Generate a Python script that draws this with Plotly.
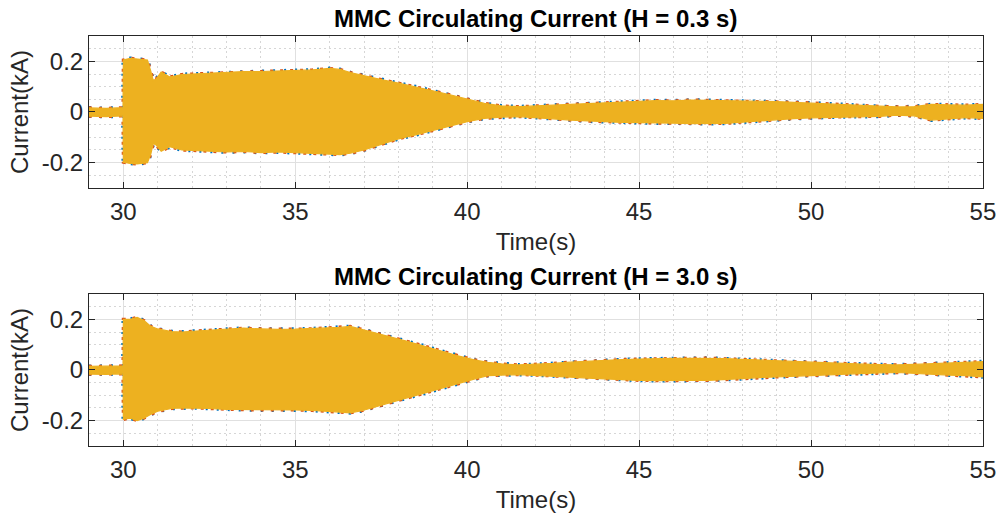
import plotly.graph_objects as go

# Envelope (peak / trough) of the circulating current, kA, sampled in time (s)
t_h03 = [29.0, 29.5, 29.99, 30.0, 30.2, 30.4, 30.7, 30.8, 30.87, 30.95, 31.1, 31.35, 31.7,
         32.0, 32.5, 33.0, 33.5, 34.0, 34.5, 35.0, 35.5, 36.0, 36.3, 36.6, 37.0,
         37.5, 38.0, 38.5, 39.0, 39.5, 40.0, 40.5, 41.0, 41.5, 42.0, 42.5, 43.0,
         43.5, 44.0, 44.5, 45.0, 45.5, 46.0, 46.5, 47.0, 47.5, 48.0, 48.5, 49.0,
         49.5, 50.0, 50.5, 51.0, 51.5, 52.0, 52.5, 53.0, 53.5, 54.0, 54.5, 55.0]
upper_h03 = [0.016, 0.014, 0.017, 0.205, 0.212, 0.208, 0.205, 0.160, 0.124, 0.130, 0.158, 0.138, 0.148,
             0.150, 0.153, 0.156, 0.160, 0.160, 0.162, 0.163, 0.166, 0.172, 0.168, 0.156, 0.143,
             0.128, 0.114, 0.100, 0.084, 0.068, 0.052, 0.034, 0.024, 0.021, 0.024, 0.027, 0.031,
             0.035, 0.038, 0.040, 0.043, 0.045, 0.044, 0.047, 0.046, 0.045, 0.044, 0.042, 0.041,
             0.038, 0.036, 0.032, 0.029, 0.025, 0.022, 0.020, 0.021, 0.030, 0.028, 0.027, 0.030]
lower_h03 = [-0.016, -0.018, -0.015, -0.198, -0.203, -0.205, -0.200, -0.165, -0.124, -0.130, -0.155, -0.137, -0.150,
             -0.152, -0.156, -0.158, -0.156, -0.160, -0.158, -0.160, -0.163, -0.166, -0.168, -0.163, -0.150,
             -0.128, -0.106, -0.090, -0.073, -0.056, -0.038, -0.025, -0.020, -0.018, -0.022, -0.027, -0.032,
             -0.036, -0.038, -0.041, -0.042, -0.044, -0.044, -0.046, -0.046, -0.045, -0.040, -0.034, -0.030,
             -0.026, -0.023, -0.020, -0.019, -0.018, -0.017, -0.012, -0.015, -0.032, -0.026, -0.022, -0.025]

t_h30 = [29.0, 29.5, 29.99, 30.0, 30.2, 30.4, 30.6, 30.8, 31.0, 31.4, 31.7, 32.0,
         32.5, 33.0, 33.5, 34.0, 34.5, 35.0, 35.5, 36.0, 36.3, 36.6, 36.9, 37.3,
         37.7, 38.2, 38.7, 39.2, 39.7, 40.2, 40.6, 41.0, 41.5, 42.0, 42.5, 43.0,
         43.5, 44.0, 44.5, 45.0, 45.5, 46.0, 46.5, 47.0, 47.5, 48.0, 48.5, 49.0,
         49.5, 50.0, 50.5, 51.0, 51.5, 52.0, 52.5, 53.0, 53.5, 54.0, 54.5, 55.0]
upper_h30 = [0.014, 0.015, 0.016, 0.200, 0.200, 0.208, 0.195, 0.172, 0.162, 0.152, 0.150, 0.153,
             0.157, 0.160, 0.165, 0.162, 0.160, 0.161, 0.163, 0.166, 0.168, 0.172, 0.162, 0.148,
             0.133, 0.115, 0.097, 0.077, 0.057, 0.040, 0.030, 0.024, 0.020, 0.022, 0.026, 0.031,
             0.035, 0.038, 0.041, 0.043, 0.045, 0.046, 0.046, 0.047, 0.045, 0.042, 0.039, 0.036,
             0.033, 0.030, 0.028, 0.026, 0.023, 0.021, 0.020, 0.022, 0.025, 0.028, 0.030, 0.033]
lower_h30 = [-0.016, -0.017, -0.015, -0.195, -0.190, -0.200, -0.190, -0.175, -0.163, -0.152, -0.150, -0.149,
             -0.152, -0.156, -0.157, -0.158, -0.157, -0.158, -0.160, -0.163, -0.166, -0.169, -0.162, -0.147,
             -0.130, -0.112, -0.093, -0.075, -0.056, -0.036, -0.022, -0.020, -0.018, -0.020, -0.024, -0.028,
             -0.032, -0.036, -0.039, -0.041, -0.042, -0.042, -0.041, -0.041, -0.038, -0.034, -0.030, -0.027,
             -0.024, -0.022, -0.019, -0.016, -0.013, -0.011, -0.010, -0.013, -0.016, -0.020, -0.022, -0.027]

panel_titles = ["MMC Circulating Current (H = 0.3 s)", "MMC Circulating Current (H = 3.0 s)"]
x_ticks = [30, 35, 40, 45, 50, 55]
y_ticks = [-0.2, 0, 0.2]
y_tick_text = ["-0.2", "0", "0.2"]

PHASE_A = "#0072BD"
PHASE_B = "#D95319"
PHASE_C = "#EDB120"
INK = "#262626"
FONT = "Arial, Liberation Sans, sans-serif"

fig = go.Figure()

panels = [
    (t_h03, upper_h03, lower_h03, "x", "y"),
    (t_h30, upper_h30, lower_h30, "x2", "y2"),
]

for t, up, lo, xa, ya in panels:
    # phases A and B peek out from under phase C as speckled edges
    for color, dash, width in [(PHASE_A, "2px,9px", 3.8), (PHASE_B, "3px,7px", 3.2)]:
        for edge in (up, lo):
            fig.add_trace(go.Scatter(
                x=t, y=edge, mode="lines", xaxis=xa, yaxis=ya,
                line=dict(color=color, width=width, dash=dash),
                hoverinfo="skip", showlegend=False,
            ))
    fig.add_trace(go.Scatter(
        x=t + t[::-1], y=up + lo[::-1], mode="lines", fill="toself",
        fillcolor=PHASE_C, line=dict(color=PHASE_C, width=1.2),
        xaxis=xa, yaxis=ya, hoverinfo="skip", showlegend=False,
    ))

x_dom = [0.0888, 0.981]
y_doms = [[0.6378, 0.9306], [0.1407, 0.4335]]

axis_common = dict(
    showline=True, linecolor=INK, linewidth=1, mirror="ticks",
    ticks="inside", ticklen=6, tickcolor=INK, tickwidth=1,
    showgrid=True, gridcolor="#e0e0e0", gridwidth=1,
    zeroline=False, automargin=False,
    tickfont=dict(family=FONT, size=24, color=INK),
)

layout = dict(
    width=1002, height=519, autosize=False,
    margin=dict(l=0, r=0, t=0, b=0),
    paper_bgcolor="white", plot_bgcolor="white",
    showlegend=False,
)

for i, (xa, ya) in enumerate([("xaxis", "yaxis"), ("xaxis2", "yaxis2")]):
    xname = "x" if i == 0 else "x2"
    yname = "y" if i == 0 else "y2"
    layout[xa] = dict(
        axis_common, domain=x_dom, anchor=yname, range=[29, 55],
        tickvals=x_ticks, ticklabelstandoff=2,
        minor=dict(dtick=1, tick0=29, showgrid=True, gridcolor="#d6d6d6",
                   griddash="2px,3px", gridwidth=1, ticks=""),
        title=dict(text="Time(s)", font=dict(family=FONT, size=24, color=INK), standoff=9),
    )
    layout[ya] = dict(
        axis_common, domain=y_doms[i], anchor=xname, range=[-0.3, 0.3],
        tickvals=y_ticks, ticktext=y_tick_text,
        minor=dict(dtick=0.05, tick0=0, showgrid=True, gridcolor="#d6d6d6",
                   griddash="2px,3px", gridwidth=1, ticks=""),
        title=dict(text="Current(kA)", font=dict(family=FONT, size=24, color=INK), standoff=6),
    )

fig.update_layout(**layout)

for i, text in enumerate(panel_titles):
    fig.add_annotation(
        text="<b>" + text + "</b>", showarrow=False,
        xref="paper", yref="paper",
        x=(x_dom[0] + x_dom[1]) / 2, y=y_doms[i][1],
        xanchor="center", yanchor="bottom", yshift=2,
        font=dict(family=FONT, size=24, color="black"),
    )

fig.write_html("out.html")
